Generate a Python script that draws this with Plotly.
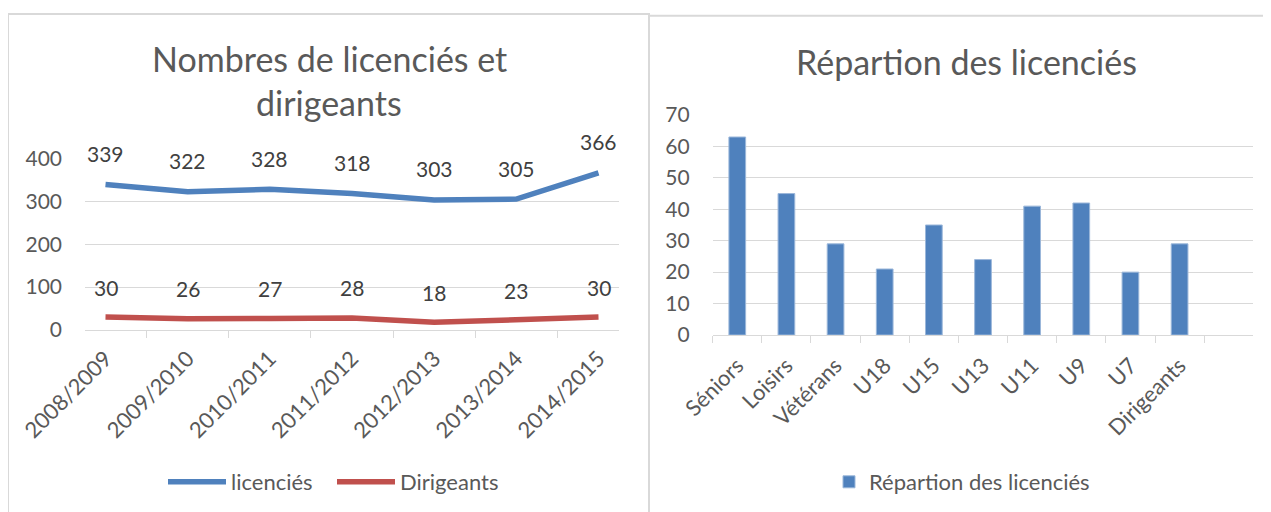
import plotly.graph_objects as go

# ---- data ----
seasons = ["2008/2009", "2009/2010", "2010/2011", "2011/2012", "2012/2013", "2013/2014", "2014/2015"]
licencies = [339, 322, 328, 318, 303, 305, 366]
dirigeants = [30, 26, 27, 28, 18, 23, 30]

bar_categories = ["Séniors", "Loisirs", "Vétérans", "U18", "U15", "U13", "U11", "U9", "U7", "Dirigeants"]
bar_values = [63, 45, 29, 21, 35, 24, 41, 42, 20, 29]

left_ticks = [0, 100, 200, 300, 400]
right_ticks = [0, 10, 20, 30, 40, 50, 60, 70]

# ---- style ----
W, H = 1271, 512
OFF = 8  # page body margin offset
FONT = "Lato"
TXT = "#595959"
GRID = "#d9d9d9"
BLUE = "#4F81BD"
RED = "#C0504D"


def px(x):
    return (x - OFF) / W


def py(y):
    return 1 - (y - OFF) / H


fig = go.Figure()

fig.add_trace(go.Scatter(x=seasons, y=licencies, mode="lines", name="licenciés",
                         line=dict(color=BLUE, width=5.5), xaxis="x", yaxis="y",
                         legend="legend", hoverinfo="skip"))
fig.add_trace(go.Scatter(x=seasons, y=dirigeants, mode="lines", name="Dirigeants",
                         line=dict(color=RED, width=5.5), xaxis="x", yaxis="y",
                         legend="legend", hoverinfo="skip"))

fig.add_trace(go.Bar(x=bar_categories, y=bar_values, name="Répartion des licenciés",
                     marker=dict(color=BLUE, line=dict(color="#9bb7da", width=1)),
                     xaxis="x2", yaxis="y2", legend="legend2", hoverinfo="skip"))

annotations = []
for s, v in zip(seasons, licencies):
    annotations.append(dict(x=s, y=v, xref="x", yref="y", text=str(v), showarrow=False,
                            yshift=31, font=dict(family=FONT, size=21, color="#404040")))
for s, v in zip(seasons, dirigeants):
    annotations.append(dict(x=s, y=v, xref="x", yref="y", text=str(v), showarrow=False,
                            yshift=30, font=dict(family=FONT, size=21, color="#404040")))

# titles
annotations.append(dict(x=px(329), y=py(58), xref="paper", yref="paper", text="Nombres de licenciés et",
                        showarrow=False, xanchor="center", yanchor="middle",
                        font=dict(family=FONT, size=34, color=TXT)))
annotations.append(dict(x=px(329), y=py(102), xref="paper", yref="paper", text="dirigeants",
                        showarrow=False, xanchor="center", yanchor="middle",
                        font=dict(family=FONT, size=34, color=TXT)))
annotations.append(dict(x=px(966), y=py(61), xref="paper", yref="paper", text="Répartion des licenciés",
                        showarrow=False, xanchor="center", yanchor="middle",
                        font=dict(family=FONT, size=34, color=TXT)))

shapes = [
    dict(type="rect", xref="paper", yref="paper", x0=px(8), x1=px(649), y0=-0.1, y1=py(14),
         line=dict(color=GRID, width=2), layer="below"),
    dict(type="rect", xref="paper", yref="paper", x0=px(649), x1=px(1300), y0=-0.1, y1=py(15.7),
         line=dict(color=GRID, width=2), layer="below"),
]

tickfont = dict(family=FONT, size=21, color=TXT)
xtickfont = dict(family=FONT, size=22, color=TXT)

fig.update_layout(
    width=W, height=H,
    margin=dict(l=0, r=0, t=0, b=0, autoexpand=False),
    paper_bgcolor="white", plot_bgcolor="white",
    font=dict(family=FONT, color=TXT),
    annotations=annotations,
    shapes=shapes,
    bargap=0.66,
    xaxis=dict(domain=[px(85), px(619)], anchor="y", type="category", tickson="boundaries",
               ticks="outside", ticklen=7, tickcolor=GRID, tickwidth=1.3,
               showline=True, linecolor=GRID, linewidth=1.3, showgrid=False, automargin=False,
               tickangle=-45, tickfont=xtickfont, ticklabelstandoff=6, fixedrange=True),
    yaxis=dict(domain=[py(330), py(158.3)], anchor="x", range=[0, 400], tickvals=left_ticks,
               showgrid=True, gridcolor=GRID, gridwidth=1.3, zeroline=False, showline=False,
               automargin=False,
               ticks="", tickfont=tickfont, ticklabelstandoff=22, fixedrange=True),
    xaxis2=dict(domain=[px(712.7), px(1253.3)], anchor="y2", type="category", tickson="boundaries",
                categoryorder="array", categoryarray=bar_categories + [" "],
                range=[-0.5, len(bar_categories) + 0.5], automargin=False,
                ticks="outside", ticklen=7, tickcolor=GRID, tickwidth=1.3,
                showline=True, linecolor=GRID, linewidth=1.3, showgrid=False,
                tickangle=-45, tickfont=xtickfont, ticklabelstandoff=8, fixedrange=True),
    yaxis2=dict(domain=[py(335), py(115)], anchor="x2", range=[0, 70], tickvals=right_ticks,
                showgrid=True, gridcolor=GRID, gridwidth=1.3, zeroline=False, showline=False,
                automargin=False,
                ticks="", tickfont=tickfont, ticklabelstandoff=22, fixedrange=True),
    legend=dict(orientation="h", x=px(163), xanchor="left", y=py(482), yanchor="middle",
                font=dict(family=FONT, size=22, color=TXT), itemwidth=58,
                entrywidth=96, bgcolor="rgba(0,0,0,0)"),
    legend2=dict(orientation="h", x=px(962), xanchor="center", y=py(482), yanchor="middle",
                 font=dict(family=FONT, size=22, color=TXT),
                 bgcolor="rgba(0,0,0,0)"),
)

fig.write_html("out.html")
